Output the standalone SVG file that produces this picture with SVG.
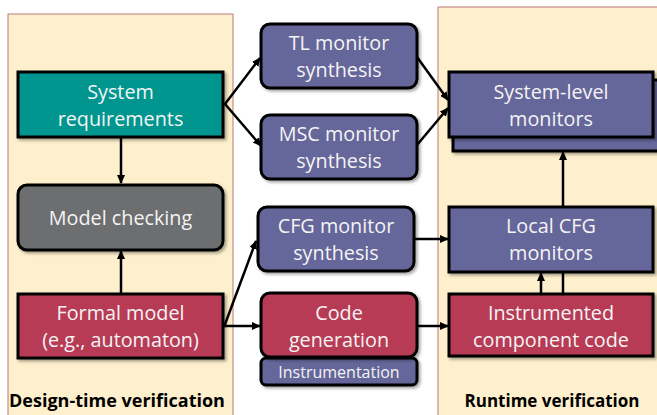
<svg xmlns="http://www.w3.org/2000/svg" width="657" height="415" viewBox="0 0 657 415">
<style>
.panel{fill:#FEF0CC;stroke:#B97A78;stroke-width:1}
.box{stroke:#000;stroke-width:3;filter:url(#sh)}
.teal{fill:#00968F}
.gray{fill:#6C6E70}
.red{fill:#B83A55}
.pur{fill:#65669A}
.t{font-family:"Open Sans",sans-serif;font-size:19.8px;fill:#F4F4F4;text-anchor:middle}
.s{font-size:16px}
.lbl{font-family:"Open Sans",sans-serif;font-size:17px;font-weight:bold;fill:#000;text-anchor:middle}
.c{fill:none;stroke:#000;stroke-width:2.5}
</style>
<defs>
<filter id="sh" x="-10%" y="-10%" width="130%" height="140%">
<feDropShadow dx="2" dy="2" stdDeviation="1.5" flood-color="#000" flood-opacity="0.35"/>
</filter>
<marker id="ah" markerWidth="9" markerHeight="8" refX="8" refY="4" orient="auto" markerUnits="userSpaceOnUse">
<path d="M0,0 L9,4 L0,8 Z" fill="#000"/>
</marker>
</defs>
<g id="panels">
<rect class="panel" x="8" y="14" width="225" height="410"/>
<rect class="panel" x="438" y="7" width="230" height="420"/>
</g>
<g id="connectors">
<line class="c" x1="121" y1="137" x2="121" y2="183" marker-end="url(#ah)"/>
<line class="c" x1="121" y1="294" x2="121" y2="251" marker-end="url(#ah)"/>
<polyline class="c" points="223,104 225,104 260,58" marker-end="url(#ah)"/>
<polyline class="c" points="225,104 261,146" marker-end="url(#ah)"/>
<line class="c" x1="417" y1="57" x2="448" y2="100" marker-end="url(#ah)"/>
<line class="c" x1="417" y1="145" x2="448" y2="108" marker-end="url(#ah)"/>
<line class="c" x1="224" y1="327" x2="256" y2="241" marker-end="url(#ah)"/>
<line class="c" x1="223" y1="326" x2="260" y2="326" marker-end="url(#ah)"/>
<line class="c" x1="414" y1="239" x2="448" y2="239" marker-end="url(#ah)"/>
<line class="c" x1="417" y1="326" x2="448" y2="326" marker-end="url(#ah)"/>
<line class="c" x1="563" y1="294" x2="563" y2="152" marker-end="url(#ah)"/>
<line class="c" x1="541" y1="294" x2="541" y2="273" marker-end="url(#ah)"/>
</g>
<g id="sysreq">
<rect class="box teal" x="18" y="72" width="205" height="65"/>
<text class="t" x="120.5" y="99">System</text>
<text class="t" x="120.5" y="126">requirements</text>
</g>
<g id="modelcheck">
<rect class="box gray" x="18" y="185" width="205" height="65" rx="9"/>
<text class="t" x="120.5" y="225">Model checking</text>
</g>
<g id="formal">
<rect class="box red" x="18" y="294" width="205" height="64"/>
<text class="t" x="120.5" y="320">Formal model</text>
<text class="t" x="120.5" y="347">(e.g., automaton)</text>
</g>
<g id="tl">
<rect class="box pur" x="261" y="24" width="156" height="64" rx="9"/>
<text class="t" x="339" y="50">TL monitor</text>
<text class="t" x="339" y="77">synthesis</text>
</g>
<g id="msc">
<rect class="box pur" x="261" y="115" width="156" height="64" rx="9"/>
<text class="t" x="339" y="141">MSC monitor</text>
<text class="t" x="339" y="168">synthesis</text>
</g>
<g id="cfg">
<rect class="box pur" x="258" y="207" width="156" height="64" rx="9"/>
<text class="t" x="336" y="233">CFG monitor</text>
<text class="t" x="336" y="260">synthesis</text>
</g>
<g id="codegen">
<rect class="box pur" x="261" y="358" width="156" height="27" rx="5"/>
<text class="t s" x="339" y="378">Instrumentation</text>
<rect class="box red" x="261" y="293" width="156" height="64" rx="9"/>
<text class="t" x="339" y="320">Code</text>
<text class="t" x="339" y="347">generation</text>
</g>
<g id="syslevel">
<rect class="box pur" x="453" y="80" width="212" height="71"/>
<rect class="box pur" x="449" y="72" width="204" height="65"/>
<text class="t" x="551" y="99">System-level</text>
<text class="t" x="551" y="126">monitors</text>
</g>
<g id="localcfg">
<rect class="box pur" x="449" y="207" width="204" height="65"/>
<text class="t" x="551" y="233">Local CFG</text>
<text class="t" x="551" y="260">monitors</text>
</g>
<g id="instr">
<rect class="box red" x="449" y="294" width="204" height="62"/>
<text class="t" x="551" y="320">Instrumented</text>
<text class="t" x="551" y="347">component code</text>
</g>
<g id="labels">
<text class="lbl" x="117" y="407" style="font-size:18px">Design-time verification</text>
<text class="lbl" x="552" y="407">Runtime verification</text>
</g>
</svg>
